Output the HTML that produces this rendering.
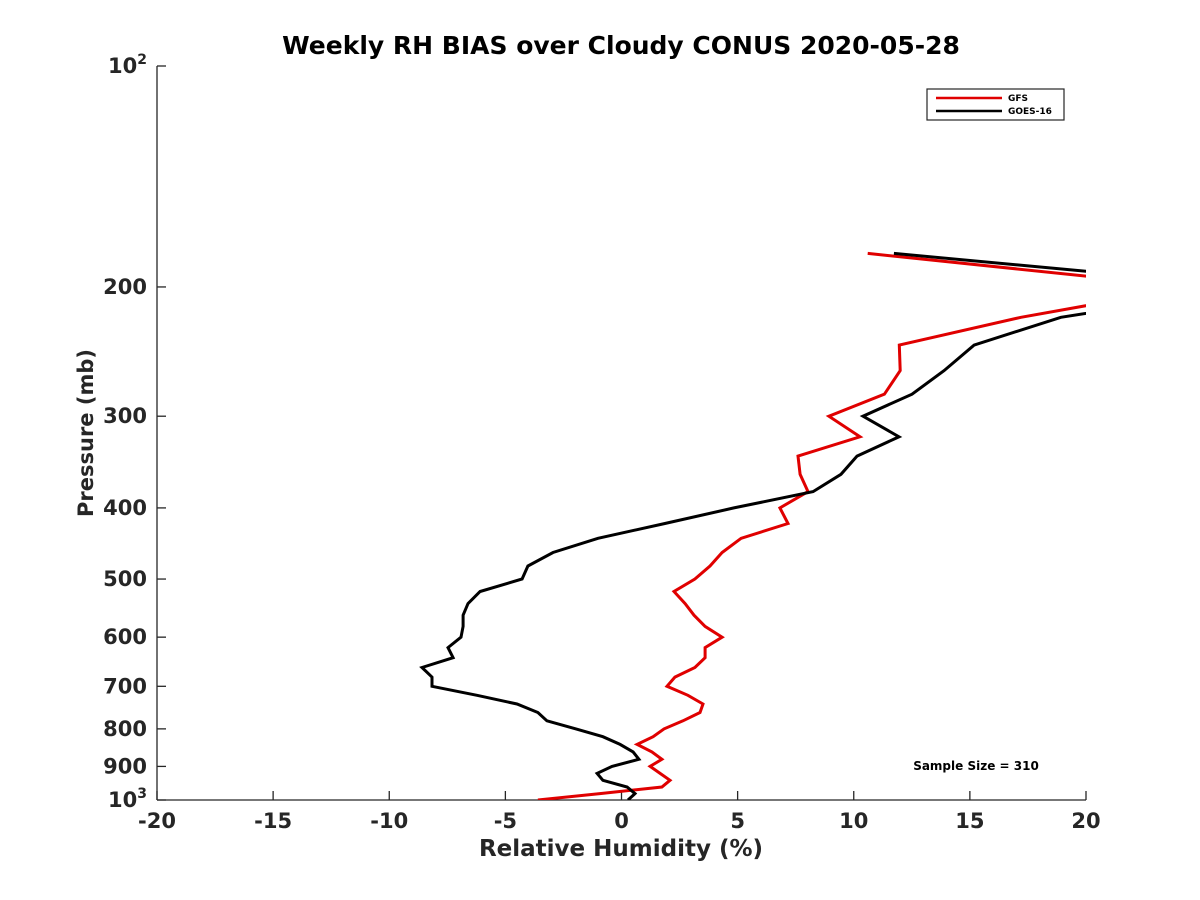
<!DOCTYPE html>
<html><head><meta charset="utf-8"><style>
html,body{margin:0;padding:0;background:#fff;}
svg{display:block;font-family:"DejaVu Sans","Liberation Sans",sans-serif;font-weight:bold;}
</style></head><body>
<svg id="chart" width="1200" height="900" viewBox="0 0 1200 900" xmlns="http://www.w3.org/2000/svg">
<defs><clipPath id="plotclip"><rect x="157" y="66" width="929" height="734"/></clipPath></defs>
<rect width="1200" height="900" fill="#fff"/>
<text x="621" y="54" font-size="25" text-anchor="middle" fill="#000">Weekly RH BIAS over Cloudy CONUS 2020-05-28</text>
<g id="axes"></g>
<g id="series" clip-path="url(#plotclip)"></g>
<text transform="translate(93,433) rotate(-90)" font-size="21" text-anchor="middle" fill="#262626">Pressure (mb)</text>
<text x="621" y="856" font-size="23" text-anchor="middle" fill="#262626">Relative Humidity (%)</text>
<g>
<rect x="927" y="89" width="137" height="31" fill="#fff" stroke="#262626" stroke-width="1.2"/>
<line x1="936" y1="98" x2="1002" y2="98" stroke="#e00000" stroke-width="2.5"/>
<text x="1008" y="101" font-size="9" fill="#000">GFS</text>
<line x1="936" y1="111" x2="1002" y2="111" stroke="#000" stroke-width="2.5"/>
<text x="1008" y="114" font-size="9" fill="#000">GOES-16</text>
</g>
<text x="976" y="770" font-size="12" text-anchor="middle" fill="#000">Sample Size = 310</text>
</svg>
<script>
const pressureLevels = [180,200,220,240,260,280,300,320,340,360,380,400,420,440,460,480,500,520,540,560,580,600,620,640,660,680,700,720,740,760,780,800,820,840,860,880,900,920,940,960,980,1000];
const gfsValues = [10.6,24.5,17.2,11.96,12.0,11.32,8.93,10.27,7.6,7.69,8.03,6.82,7.17,5.15,4.33,3.81,3.16,2.26,2.74,3.12,3.6,4.33,3.6,3.6,3.16,2.3,1.96,2.86,3.51,3.38,2.65,1.83,1.36,0.67,1.31,1.74,1.23,1.66,2.09,1.74,-0.93,-3.6];
const goesValues = [11.73,27.3,18.92,15.18,13.89,12.51,10.4,11.95,10.14,9.45,8.25,4.84,1.87,-1.01,-2.95,-4.03,-4.28,-6.09,-6.61,-6.82,-6.82,-6.91,-7.47,-7.25,-8.59,-8.16,-8.16,-6.22,-4.5,-3.6,-3.21,-1.96,-0.8,-0.06,0.5,0.75,-0.41,-1.05,-0.8,0.24,0.58,0.28];
const xTicks = [-20,-15,-10,-5,0,5,10,15,20];
const yTicks = [100,200,300,400,500,600,700,800,900,1000];
const yTickLabels = ["","200","300","400","500","600","700","800","900",""];

const NS = "http://www.w3.org/2000/svg";
const X0 = 157, X1 = 1086, Y0 = 66, Y1 = 800;
function xScale(v){ return X0 + (v + 20) / 40 * (X1 - X0); }
function yScale(p){ return Y0 + Math.log10(p / 100) * (Y1 - Y0); }
function mk(tag, attrs){ const e = document.createElementNS(NS, tag); for (const k in attrs) e.setAttribute(k, attrs[k]); return e; }

const axes = document.getElementById("axes");
const yAxis = mk("line", {x1:X0, y1:Y0, x2:X0, y2:Y1, stroke:"#262626", "stroke-width":1.3});


axes.appendChild(yAxis);
const xAxis = mk("line", {x1:X0, y1:Y1, x2:X1, y2:Y1, stroke:"#262626", "stroke-width":1.3});


axes.appendChild(xAxis);

xTicks.forEach(function(v){
  const x = xScale(v);
  const t = mk("line", {x1:x, y1:Y1, x2:x, y2:Y1-9, stroke:"#262626", "stroke-width":1.3});
  
  
  axes.appendChild(t);
  const l = mk("text", {x:x, y:Y1+28, "font-size":21, "text-anchor":"middle", fill:"#262626"});
  
  
  l.textContent = String(v);
  axes.appendChild(l);
});
yTicks.forEach(function(p, i){
  const y = yScale(p);
  const t = mk("line", {x1:X0, y1:y, x2:X0+9, y2:y, stroke:"#262626", "stroke-width":1.3});
  
  
  axes.appendChild(t);
  const l = mk("text", {x:X0-10, y:y+7, "font-size":21, "text-anchor":"end", fill:"#262626"});
  
  
  if (yTickLabels[i]) { l.textContent = yTickLabels[i]; }
  else {
    const exp = p === 100 ? "2" : "3";
    l.textContent = "10";
    const s = mk("tspan", {dy:-9, "font-size":14});
    s.textContent = exp;
    l.appendChild(s);
  }
  axes.appendChild(l);
});

const series = document.getElementById("series");
function drawLine(values, color, name){
  const pts = values.map(function(v, i){ return xScale(v).toFixed(1) + "," + yScale(pressureLevels[i]).toFixed(1); }).join(" ");
  const pl = mk("polyline", {points:pts, fill:"none", stroke:color, "stroke-width":3, "stroke-linejoin":"miter"});
  
  
  series.appendChild(pl);
}
drawLine(gfsValues, "#e00000", "gfs-line");
drawLine(goesValues, "#000000", "goes16-line");
</script>
</body></html>
